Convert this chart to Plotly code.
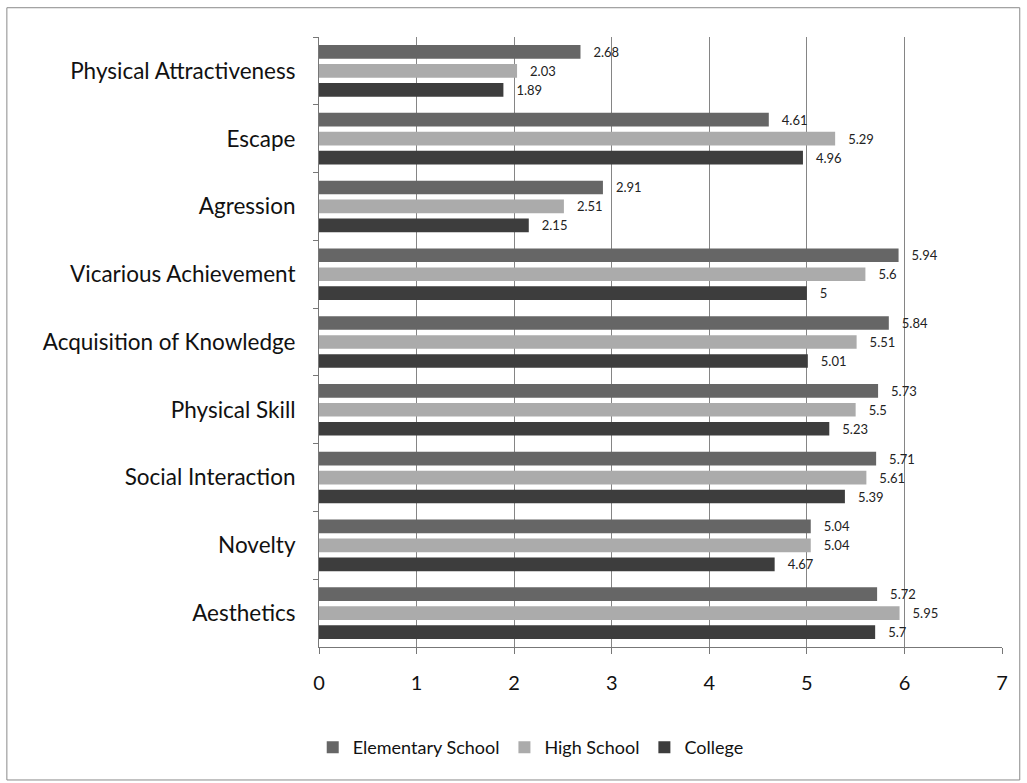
import plotly.graph_objects as go

# Motive categories, listed top to bottom
categories = [
    "Physical Attractiveness", "Escape", "Agression", "Vicarious Achievement",
    "Acquisition of Knowledge", "Physical Skill", "Social Interaction",
    "Novelty", "Aesthetics",
]
elementary = [2.68, 4.61, 2.91, 5.94, 5.84, 5.73, 5.71, 5.04, 5.72]
high_school = [2.03, 5.29, 2.51, 5.6, 5.51, 5.5, 5.61, 5.04, 5.95]
college = [1.89, 4.96, 2.15, 5, 5.01, 5.23, 5.39, 4.67, 5.7]
x_ticks = [0, 1, 2, 3, 4, 5, 6, 7]

series = [
    ("Elementary School", elementary, "#666666"),
    ("High School", high_school, "#ababab"),
    ("College", college, "#3d3d3d"),
]

PAD = "\u00a0" * 3  # gap between bar end and its value label

fig = go.Figure()
for name, vals, color in series:
    fig.add_trace(go.Bar(
        y=categories, x=vals, name=name, orientation="h",
        marker=dict(color=color, line=dict(width=0)),
        text=[PAD + str(v) for v in vals], textposition="outside",
        textfont=dict(size=13, color="#222222", family="Lato"),
        constraintext="none",
        cliponaxis=False,
    ))

fig.update_layout(
    width=1027, height=783,
    margin=dict(l=319, r=25, t=37, b=136),
    paper_bgcolor="white", plot_bgcolor="white",
    barmode="group", bargap=0.16, bargroupgap=0.28,
    font=dict(family="Lato", color="#111111"),
    showlegend=True,
    legend=dict(orientation="h", x=0.31, y=-0.165, xanchor="center",
                yanchor="middle", font=dict(size=18), traceorder="normal",
                itemwidth=30),
    xaxis=dict(range=[0, 7], tickvals=x_ticks, showgrid=True,
               gridcolor="#858585", gridwidth=1, zeroline=False,
               showline=True, linecolor="#777777", ticks="outside",
               ticklen=6, tickcolor="#777777", tickfont=dict(size=20),
               ticklabelstandoff=12),
    yaxis=dict(categoryorder="array", categoryarray=categories,
               autorange="reversed", showline=True, linecolor="#777777",
               ticks="outside", tickson="boundaries", ticklen=5,
               tickcolor="#777777", tickfont=dict(size=22.5, color="#111111"),
               ticklabelstandoff=18),
    shapes=[dict(type="rect", xref="paper", yref="paper",
                 x0=-0.457, x1=1.026, y0=-0.218, y1=1.048,
                 line=dict(color="#8a8a8a", width=1))],
)

fig.write_html("out.html")
